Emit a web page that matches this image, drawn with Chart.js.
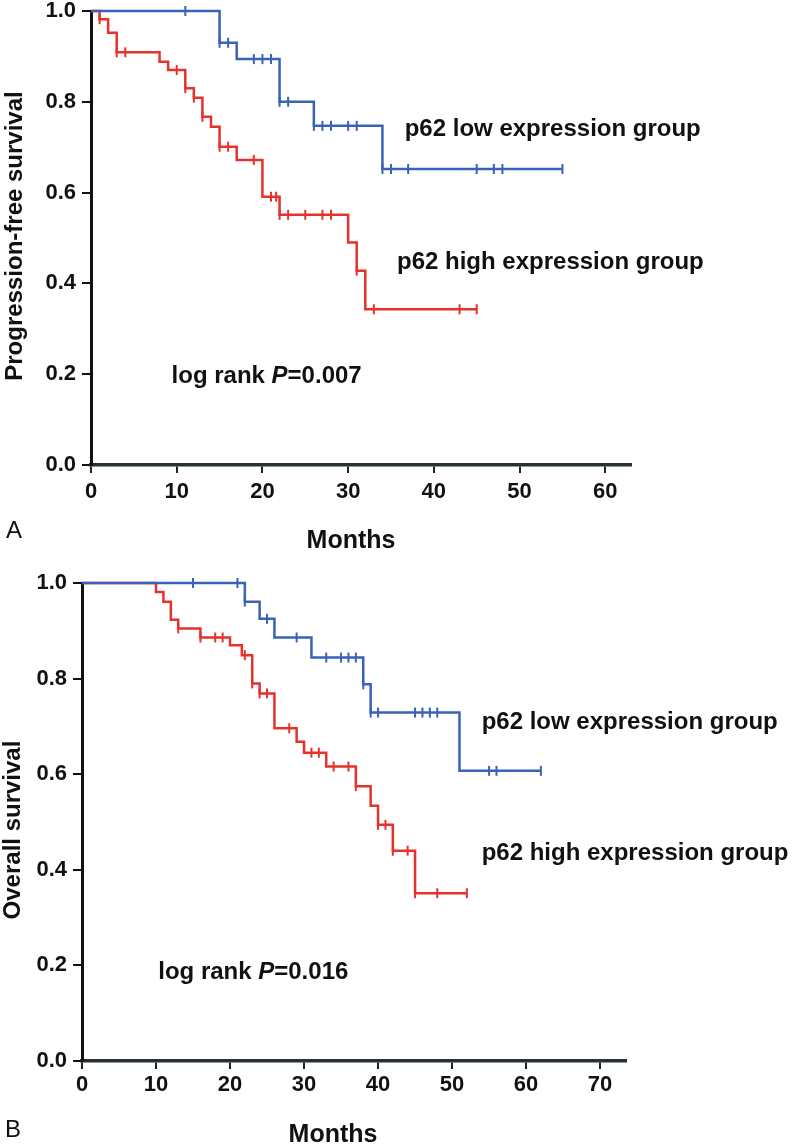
<!DOCTYPE html>
<html>
<head>
    <title>p62 Kaplan-Meier</title>
    <script src="https://cdn.jsdelivr.net/npm/chart.js"></script>
    <style>
        body { margin: 0; background: #fff; }
        #wrap { position: relative; width: 800px; height: 1144px; }
        .panel { position: absolute; left: 0; width: 800px; }
    </style>
</head>
<body>
    <div id="wrap">
        <div class="panel" style="top:0;height:560px"><canvas id="chartA" width="800" height="560"></canvas></div>
        <div class="panel" style="top:560px;height:584px"><canvas id="chartB" width="800" height="584"></canvas></div>
    </div>

    <script>
        // Panel A - progression-free survival
        var pfsLowTimes = [0, 15, 17, 22, 26, 34, 55];
        var pfsLowSurv = [1.0, 0.930, 0.894, 0.800, 0.747, 0.652, 0.652];
        var pfsLowCensor = [11, 15, 16, 19, 20, 21, 22, 23, 26, 27, 28, 30, 31, 34, 35, 37, 45, 47, 48, 55];

        var pfsHighTimes = [0, 1, 2, 3, 8, 9, 11, 12, 13, 14, 15, 17, 20, 22, 30, 31, 32, 45];
        var pfsHighSurv = [1.0, 0.982, 0.952, 0.909, 0.888, 0.870, 0.830, 0.809, 0.767, 0.745, 0.701, 0.672, 0.591, 0.551, 0.490, 0.428, 0.343, 0.343];
        var pfsHighCensor = [1, 3, 4, 10, 11, 12, 13, 15, 16, 19, 21, 21.6, 22, 23, 25, 27, 28, 31, 33, 43, 45];

        // Panel B - overall survival
        var osLowTimes = [0, 22, 24, 26, 31, 38, 39, 51, 62];
        var osLowSurv = [1.0, 0.961, 0.925, 0.886, 0.844, 0.788, 0.729, 0.607, 0.607];
        var osLowCensor = [15, 21, 22, 25, 29, 33, 35, 36, 37, 38, 39, 40, 45, 46, 47, 48, 55, 56, 62];

        var osHighTimes = [0, 10, 11, 12, 13, 16, 20, 21.6, 23, 24, 26, 29, 30, 33, 37, 39, 40, 42, 45, 52];
        var osHighSurv = [1.0, 0.981, 0.961, 0.923, 0.905, 0.886, 0.870, 0.849, 0.790, 0.769, 0.696, 0.668, 0.645, 0.616, 0.575, 0.534, 0.494, 0.440, 0.351, 0.351];
        var osHighCensor = [13, 16, 18, 19, 22, 23, 24, 25, 28, 31, 32, 34, 36, 37, 40, 41, 42, 44, 45, 48, 52];

        var yTicks = [0, 0.2, 0.4, 0.6, 0.8, 1.0];
        var lowLabel = 'p62 low expression group';
        var highLabel = 'p62 high expression group';

        var BLUE = '#3a62b6';
        var RED = '#e6322d';
        var FONT = '"Liberation Sans", Arial, sans-serif';

        Chart.defaults.font.family = FONT;
        Chart.defaults.font.weight = 'bold';
        Chart.defaults.color = '#111';

        function stepPoints(times, surv) {
            return times.map(function(t, i) { return { x: t, y: surv[i] }; });
        }

        function survAt(times, surv, t) {
            var s = surv[0];
            for (var i = 0; i < times.length; i++) {
                if (times[i] <= t) s = surv[i];
            }
            return s;
        }

        function censorPoints(times, surv, censor) {
            return censor.map(function(t) { return { x: t, y: survAt(times, surv, t) }; });
        }

        function curve(times, surv, color) {
            return {
                data: stepPoints(times, surv),
                borderColor: color,
                borderWidth: 2.5,
                stepped: 'before',
                pointRadius: 0,
                fill: false,
                clip: false
            };
        }

        function marks(times, surv, censor, color) {
            return {
                data: censorPoints(times, surv, censor),
                showLine: false,
                pointStyle: 'line',
                rotation: 90,
                pointRadius: 5,
                borderColor: color,
                borderWidth: 2,
                clip: false
            };
        }

        // text drawn on top: group labels, log rank, axis titles, panel letter
        var textPlugin = {
            id: 'texts',
            afterDraw: function(chart) {
                var o = chart.options.plugins.texts;
                var ctx = chart.ctx;
                var xs = chart.scales.x, ys = chart.scales.y;
                ctx.save();
                ctx.fillStyle = '#111';
                ctx.textBaseline = 'middle';
                ctx.textAlign = 'left';
                ctx.font = 'bold 24px ' + FONT;
                o.groups.forEach(function(g) {
                    ctx.fillText(g.text, xs.getPixelForValue(g.x), ys.getPixelForValue(g.y));
                });
                // log rank P=...
                var lx = xs.getPixelForValue(o.logrank.x), ly = ys.getPixelForValue(o.logrank.y);
                var parts = [['log rank ', 'bold'], ['P', 'italic bold'], ['=' + o.logrank.p, 'bold']];
                parts.forEach(function(p) {
                    ctx.font = p[1] + ' 24px ' + FONT;
                    ctx.fillText(p[0], lx, ly);
                    lx += ctx.measureText(p[0]).width;
                });
                // x title
                ctx.font = 'bold 25px ' + FONT;
                ctx.textAlign = 'center';
                ctx.fillText('Months', o.xTitle.x, o.xTitle.y);
                // panel letter
                ctx.font = '24px ' + FONT;
                ctx.textAlign = 'left';
                ctx.fillText(o.letter.text, o.letter.x, o.letter.y);
                // y title
                ctx.translate(o.yTitle.x, o.yTitle.y);
                ctx.rotate(-Math.PI / 2);
                ctx.textAlign = 'center';
                ctx.font = 'bold 24px ' + FONT;
                ctx.fillText(o.yTitle.text, 0, 0);
                ctx.restore();
            }
        };

        function makeChart(id, cfg) {
            var ctx = document.getElementById(id).getContext('2d');
            return new Chart(ctx, {
                type: 'line',
                data: { datasets: cfg.datasets },
                options: {
                    responsive: false,
                    animation: false,
                    layout: { padding: { left: 0, right: cfg.padRight, top: cfg.padTop, bottom: 0 } },
                    plugins: {
                        legend: { display: false },
                        tooltip: { enabled: false },
                        texts: cfg.texts
                    },
                    scales: {
                        x: {
                            type: 'linear',
                            min: 0,
                            max: cfg.xMax,
                            afterFit: function(s) { s.height = cfg.xHeight; s.paddingLeft = 0; s.paddingRight = 0; },
                            ticks: { stepSize: 10, includeBounds: false, padding: cfg.xPad, font: { size: 22, weight: 'bold' }, color: '#111' },
                            grid: { drawOnChartArea: false, drawTicks: true, tickLength: 8, color: '#222', lineWidth: 2 },
                            border: { display: true, color: '#273036', width: 3.5 }
                        },
                        y: {
                            type: 'linear',
                            min: 0,
                            max: 1,
                            afterFit: function(s) { s.width = cfg.yWidth; s.paddingTop = 0; s.paddingBottom = 0; },
                            afterBuildTicks: function(s) { s.ticks = yTicks.map(function(v) { return { value: v }; }); },
                            ticks: {
                                padding: 6,
                                font: { size: 22, weight: 'bold' },
                                color: '#111',
                                callback: function(v) { return v.toFixed(1); }
                            },
                            grid: { drawOnChartArea: false, drawTicks: true, tickLength: 9, color: '#111', lineWidth: 2 },
                            border: { display: true, color: '#111', width: 3 }
                        }
                    }
                },
                plugins: [textPlugin]
            });
        }

        makeChart('chartA', {
            datasets: [
                curve(pfsLowTimes, pfsLowSurv, BLUE),
                curve(pfsHighTimes, pfsHighSurv, RED),
                marks(pfsLowTimes, pfsLowSurv, pfsLowCensor, BLUE),
                marks(pfsHighTimes, pfsHighSurv, pfsHighCensor, RED)
            ],
            xMax: 63,
            padRight: 169,
            padTop: 11,
            xHeight: 95,
            yWidth: 91,
            xPad: 6,
            texts: {
                groups: [
                    { text: lowLabel, x: 36.6, y: 0.74 },
                    { text: highLabel, x: 35.7, y: 0.447 }
                ],
                logrank: { x: 9.4, y: 0.196, p: '0.007' },
                xTitle: { x: 351, y: 541 },
                yTitle: { text: 'Progression-free survival', x: 15, y: 236 },
                letter: { text: 'A', x: 6, y: 531 }
            }
        });

        makeChart('chartB', {
            datasets: [
                curve(osLowTimes, osLowSurv, BLUE),
                curve(osHighTimes, osHighSurv, RED),
                marks(osLowTimes, osLowSurv, osLowCensor, BLUE),
                marks(osHighTimes, osHighSurv, osHighCensor, RED)
            ],
            xMax: 73.5,
            padRight: 174,
            padTop: 23,
            xHeight: 83,
            yWidth: 82,
            xPad: 3,
            texts: {
                groups: [
                    { text: lowLabel, x: 54, y: 0.709 },
                    { text: highLabel, x: 54, y: 0.435 }
                ],
                logrank: { x: 10.3, y: 0.186, p: '0.016' },
                xTitle: { x: 333, y: 575 },
                yTitle: { text: 'Overall survival', x: 13, y: 270 },
                letter: { text: 'B', x: 5, y: 570 }
            }
        });
    </script>
</body>
</html>
